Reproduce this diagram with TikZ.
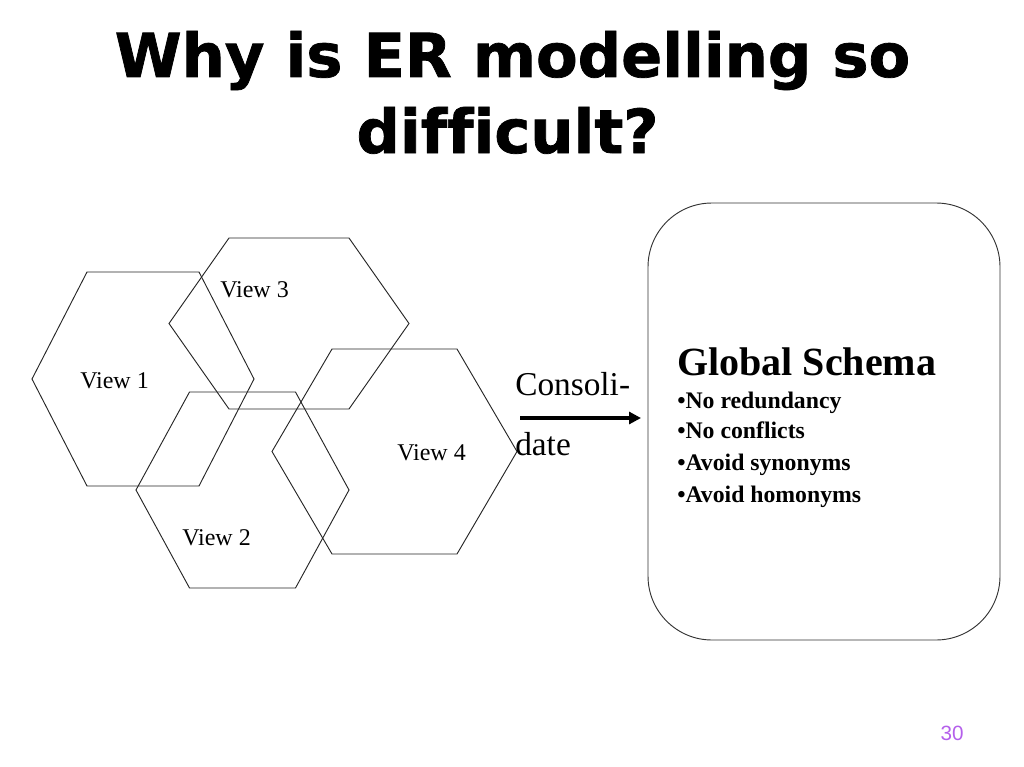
\documentclass[tikz,border=0pt]{standalone}
\usepackage{fontspec}
\usepackage{graphicx}
\setmainfont{Liberation Serif}
\newfontfamily\titlefont[Ligatures=NoCommon,BoldFeatures={FakeBold=1.2}]{DejaVu Sans}
\newfontfamily\numfont{Liberation Sans}
\usetikzlibrary{arrows.meta}
\definecolor{pagenum}{RGB}{180,95,235}

\begin{document}
\begin{tikzpicture}[x=0.75pt,y=-0.75pt,
    hexline/.style={draw=black!85,line width=0.7pt},
    viewlbl/.style={anchor=base west,inner sep=0pt,font=\fontsize{18}{20}\selectfont},
    ttl/.style={anchor=base,inner sep=0pt,font=\titlefont\bfseries\fontsize{45.5}{57}\selectfont},
    pnt/.style={anchor=base west,inner sep=0pt,font=\bfseries\fontsize{17.8}{20}\selectfont}]
  \useasboundingbox (0,0) rectangle (1024,767);

  \node (ttla) [ttl] at (512.5,77) {Why is ER modelling so};
  \node (ttlb) [ttl] at (507.5,153) {difficult?};

  % the four views
  \foreach \cx/\cy/\hw/\tw/\hh in {143/379/111/56/107, 289/323.5/120/60/85.5,
      242.5/490/106.5/53/98, 394.5/451.5/122.5/62.5/102.5}
    \draw[hexline] ({\cx-\hw},\cy) -- ({\cx-\tw},{\cy-\hh}) -- ({\cx+\tw},{\cy-\hh})
      -- ({\cx+\hw},\cy) -- ({\cx+\tw},{\cy+\hh}) -- ({\cx-\tw},{\cy+\hh}) -- cycle;
  \node (v1) [viewlbl] at (80,388) {View 1};
  \node (v3) [viewlbl] at (220,297) {View 3};
  \node (v2) [viewlbl] at (182,545) {View 2};
  \node (v4) [viewlbl] at (397,460) {View 4};

  % consolidate
  \node (cons) [anchor=base west,inner sep=0pt,font=\fontsize{25}{30}\selectfont] at (515,395) {Consoli-};
  \node (date) [anchor=base west,inner sep=0pt,font=\fontsize{25}{30}\selectfont] at (515,455) {date};
  \coordinate (arrtail) at (520,418);
  \coordinate (arrhead) at (641,418);
  \draw[line width=3pt,-{Triangle[length=9pt,width=9pt]}] (arrtail) -- (arrhead);

  % global schema
  \node (gs) [draw=black!80,line width=0.7pt,rounded corners=48pt,minimum width=264pt,
    minimum height=327.75pt,inner sep=0pt] at (824,421.5) {};
  \node (gst) [anchor=base west,inner sep=0pt,font=\bfseries\fontsize{30}{34}\selectfont] at (677,375) {Global Schema};
  \node (p1) [pnt] at (677,408) {•No redundancy};
  \node (p2) [pnt] at (677,438) {•No conflicts};
  \node (p3) [pnt] at (677,470) {•Avoid synonyms};
  \node (p4) [pnt] at (677,502) {•Avoid homonyms};

  \node (pg) [text=pagenum,font=\numfont\fontsize{15.5}{18}\selectfont] at (952,733) {30};
\end{tikzpicture}
\end{document}
